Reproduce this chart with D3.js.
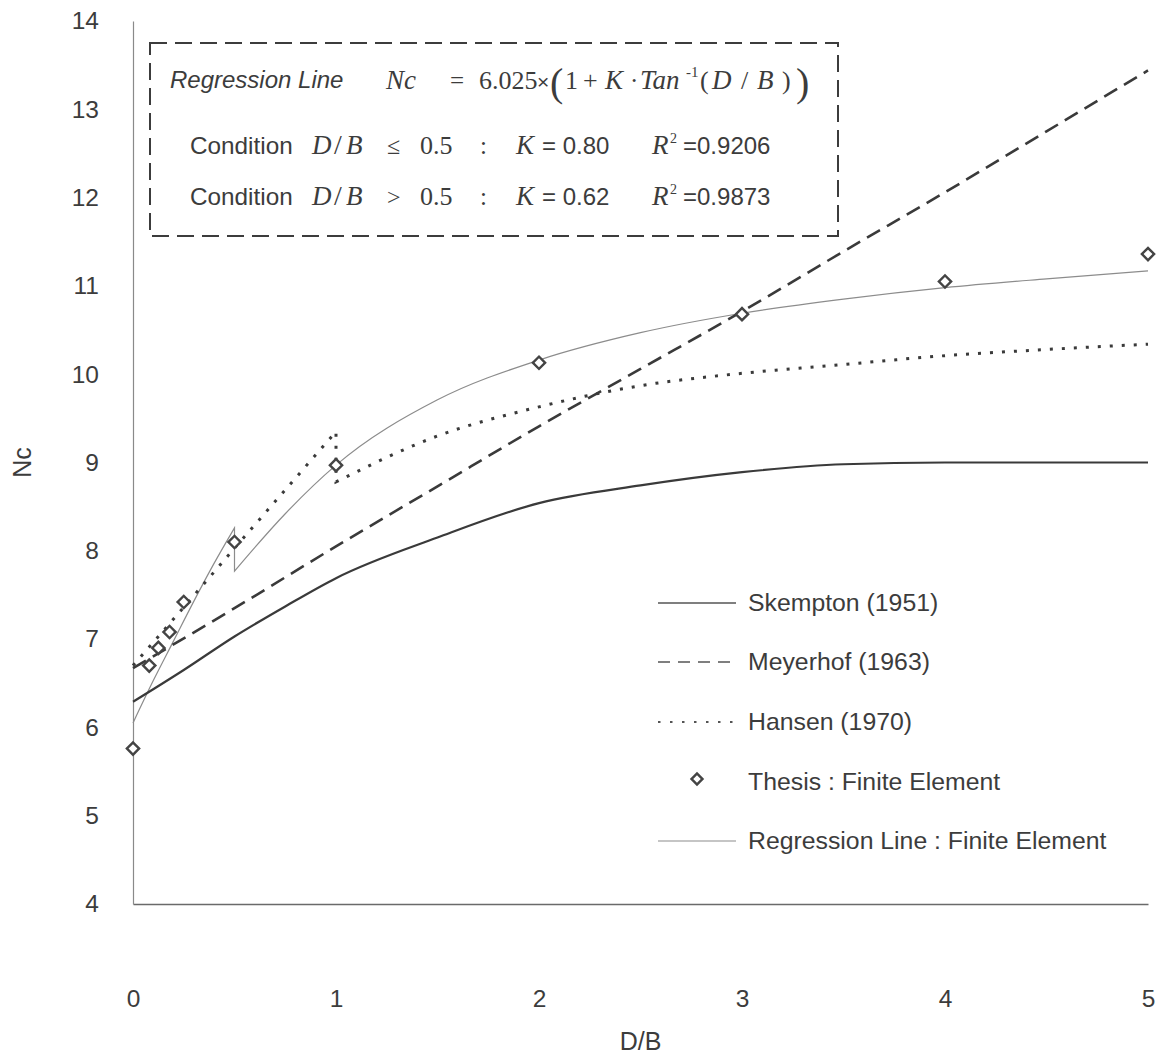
<!DOCTYPE html>
<html>
<head>
<meta charset="utf-8">
<script src="https://cdn.jsdelivr.net/npm/d3@7"></script>
<style>
  html, body { margin: 0; padding: 0; background: #fff; }
  svg { display: block; }
  .sans { font-family: "Liberation Sans", Arial, sans-serif; fill: #3c3c3c; }
  .serif { font-family: "Liberation Serif", "Times New Roman", serif; fill: #3c3c3c; }
</style>
</head>
<body>
<svg id="chart" width="1167" height="1058"></svg>
<script>
// Bearing capacity factor Nc versus embedment ratio D/B

const xTicks = [0, 1, 2, 3, 4, 5];
const yTicks = [4, 5, 6, 7, 8, 9, 10, 11, 12, 13, 14];

// Skempton (1951)
const skemptonDB = [0, 0.25, 0.5, 0.75, 1, 1.5, 2, 2.5, 3, 3.5, 4, 4.5, 5];
const skemptonNc = [6.29, 6.65, 7.03, 7.37, 7.69, 8.15, 8.54, 8.74, 8.89, 8.98, 9.00, 9.00, 9.00];

// Meyerhof (1963)
const meyerhofDB = [0, 0.5, 1, 1.5, 2, 2.5, 3, 3.5, 4, 4.5, 5];
const meyerhofNc = [6.67, 7.35, 8.05, 8.73, 9.41, 10.06, 10.71, 11.39, 12.06, 12.75, 13.44];

// Hansen (1970) - jumps down at D/B = 1
const hansenDB = [0, 0.25, 0.5, 0.75, 1, 1, 1.5, 2, 2.5, 3, 3.5, 4, 4.5, 5];
const hansenNc = [6.70, 7.36, 8.03, 8.69, 9.35, 8.78, 9.30, 9.63, 9.87, 10.01, 10.11, 10.21, 10.28, 10.34];

// Thesis : finite element results
const feDB = [0, 0.08, 0.125, 0.18, 0.25, 0.5, 1, 2, 3, 4, 5];
const feNc = [5.76, 6.70, 6.90, 7.08, 7.42, 8.10, 8.97, 10.13, 10.68, 11.05, 11.36];

// Regression line through the finite element results, D/B <= 0.5 (K = 0.80)
const regLowDB = [0, 0.1, 0.2, 0.3, 0.4, 0.5];
const regLowNc = [6.05, 6.53, 6.98, 7.43, 7.86, 8.26];
// Regression line, D/B > 0.5 (K = 0.62)
const regHighDB = [0.5, 0.75, 1, 1.5, 2, 2.5, 3, 3.5, 4, 4.5, 5];
const regHighNc = [7.77, 8.42, 8.97, 9.71, 10.16, 10.47, 10.69, 10.85, 10.98, 11.08, 11.17];

const legendLabels = ["Skempton (1951)", "Meyerhof (1963)", "Hansen (1970)",
                      "Thesis : Finite Element", "Regression Line : Finite Element"];

const svg = d3.select("#chart");
const x = d3.scaleLinear().domain([0, 5]).range([133, 1148]);
const y = d3.scaleLinear().domain([4, 14]).range([904, 21]);

const ink = "#3a3a3a";

// Axes: only the lines and labels, no tick marks
const xAxis = d3.axisBottom(x).tickValues(xTicks).tickSize(0).tickPadding(86).tickFormat(d3.format("d"));
const yAxis = d3.axisLeft(y).tickValues(yTicks).tickSize(0).tickPadding(34).tickFormat(d3.format("d"));

const gx = svg.append("g").attr("transform", `translate(0,${y(4)})`).call(xAxis);
gx.select(".domain").attr("stroke", "#6a6a6a").attr("stroke-width", 1.6);
gx.selectAll("text").attr("class", "sans").style("font-size", "24.5px").attr("fill", "#444");

const gy = svg.append("g").attr("transform", `translate(${x(0)},0)`).call(yAxis);
gy.select(".domain").attr("stroke", "#8a8a8a").attr("stroke-width", 1.2);
gy.selectAll("text").attr("class", "sans").style("font-size", "24.5px").attr("fill", "#444");

// Axis titles
svg.append("text").attr("class", "sans")
  .attr("transform", `translate(31,${y(9)}) rotate(-90)`)
  .attr("text-anchor", "middle").style("font-size", "25px").text("Nc");
svg.append("text").attr("class", "sans")
  .attr("x", (x(0) + x(5)) / 2).attr("y", 1050)
  .attr("text-anchor", "middle").style("font-size", "25px").text("D/B");

const straight = d3.line().x(d => x(d[0])).y(d => y(d[1]));
const smooth = d3.line().x(d => x(d[0])).y(d => y(d[1])).curve(d3.curveMonotoneX);
const pts = (a, b) => a.map((v, i) => [v, b[i]]);

// Regression line (thin, light), two branches joined by the step at D/B = 0.5
const regPath = smooth(pts(regLowDB, regLowNc)) + "L" + smooth(pts(regHighDB, regHighNc)).slice(1);
svg.append("path").attr("d", regPath)
  .attr("fill", "none").attr("stroke", "#8c8c8c").attr("stroke-width", 1.2);

// Skempton
svg.append("path").datum(pts(skemptonDB, skemptonNc)).attr("d", smooth)
  .attr("fill", "none").attr("stroke", ink).attr("stroke-width", 2.2);

// Meyerhof
svg.append("path").datum(pts(meyerhofDB, meyerhofNc)).attr("d", smooth)
  .attr("fill", "none").attr("stroke", ink).attr("stroke-width", 2.6)
  .attr("stroke-dasharray", "15,8");

// Hansen: straight rise to D/B = 1, drop, then smooth curve
const hansenPts = pts(hansenDB, hansenNc);
const hansenPath = straight(hansenPts.slice(0, 5)) + "L" + smooth(hansenPts.slice(5)).slice(1);
svg.append("path").attr("d", hansenPath)
  .attr("fill", "none").attr("stroke", ink).attr("stroke-width", 3)
  .attr("stroke-dasharray", "3,9");

// Finite element points as open diamonds
const diamond = d3.symbol().type(d3.symbolSquare).size(75);
svg.append("g").selectAll("path").data(pts(feDB, feNc)).join("path")
  .attr("d", diamond)
  .attr("transform", d => `translate(${x(d[0])},${y(d[1])}) rotate(45)`)
  .attr("fill", "#fff").attr("stroke", "#444").attr("stroke-width", 2.4);

// Equation box
const box = svg.append("g");
box.append("rect").attr("x", 150).attr("y", 43).attr("width", 688).attr("height", 193)
  .attr("fill", "none").attr("stroke", "#3c3c3c").attr("stroke-width", 2)
  .attr("stroke-dasharray", "17,8");

function t(parent, cls, xx, yy, size, str, italic) {
  return parent.append("text").attr("class", cls).attr("x", xx).attr("y", yy)
    .style("font-size", size + "px").style("font-style", italic ? "italic" : "normal").text(str);
}

// Row 1: regression equation
t(box, "sans", 170, 88, 24, "Regression Line", true);
t(box, "serif", 386, 89, 27, "Nc", true);
t(box, "serif", 450, 89, 25, "=");
t(box, "serif", 479, 89, 26, "6.025");
t(box, "sans", 537, 89, 21, "×");
t(box, "serif", 550, 96, 40, "(");
t(box, "serif", 565, 89, 26, "1");
t(box, "serif", 583, 89, 26, "+");
t(box, "serif", 605, 89, 27, "K", true);
t(box, "serif", 630, 89, 25, "·");
t(box, "serif", 640, 89, 27, "Tan", true);
t(box, "serif", 686, 77, 15, "-1");
t(box, "serif", 700, 89, 26, "(");
t(box, "serif", 712, 89, 27, "D", true);
t(box, "serif", 741, 89, 26, "/");
t(box, "serif", 757, 89, 27, "B", true);
t(box, "serif", 782, 89, 26, ")");
t(box, "serif", 796, 96, 40, ")");

// Rows 2 and 3: conditions
const rows = [
  { yy: 154, op: "≤", k: "0.80", r2: "0.9206" },
  { yy: 205, op: ">", k: "0.62", r2: "0.9873" }
];
rows.forEach(r => {
  t(box, "sans", 190, r.yy, 24.3, "Condition");
  t(box, "serif", 312, r.yy, 27, "D", true);
  t(box, "serif", 334, r.yy, 28, "/");
  t(box, "serif", 346, r.yy, 27, "B", true);
  t(box, "serif", 387, r.yy, 24, r.op);
  t(box, "serif", 420, r.yy, 26, "0.5");
  t(box, "serif", 480, r.yy, 25, ":");
  t(box, "serif", 516, r.yy, 27, "K", true);
  t(box, "sans", 542, r.yy, 24, "= " + r.k);
  t(box, "serif", 652, r.yy, 27, "R", true);
  t(box, "serif", 670, r.yy - 11, 14, "2");
  t(box, "sans", 683, r.yy, 24, "=" + r.r2);
});

// Legend
const lg = svg.append("g");
const lx0 = 658, lx1 = 736, ltx = 748;
const rowsY = [603, 662, 722, 782, 841];
const styles = [
  { stroke: "#555", w: 1.6, dash: null },
  { stroke: "#555", w: 1.6, dash: "12,8" },
  { stroke: "#555", w: 2, dash: "2.5,9.5" },
  null,
  { stroke: "#8c8c8c", w: 1.2, dash: null }
];
legendLabels.forEach((lab, i) => {
  const yy = rowsY[i];
  const s = styles[i];
  if (s) {
    lg.append("line").attr("x1", lx0).attr("x2", lx1).attr("y1", yy).attr("y2", yy)
      .attr("stroke", s.stroke).attr("stroke-width", s.w)
      .attr("stroke-dasharray", s.dash);
  } else {
    lg.append("path").attr("d", d3.symbol().type(d3.symbolSquare).size(60))
      .attr("transform", `translate(${(lx0 + lx1) / 2},${yy - 3}) rotate(45)`)
      .attr("fill", "#fff").attr("stroke", "#444").attr("stroke-width", 2.4);
  }
  lg.append("text").attr("class", "sans").attr("x", ltx).attr("y", yy + 8)
    .style("font-size", "24.8px").text(lab);
});
</script>
</body>
</html>
